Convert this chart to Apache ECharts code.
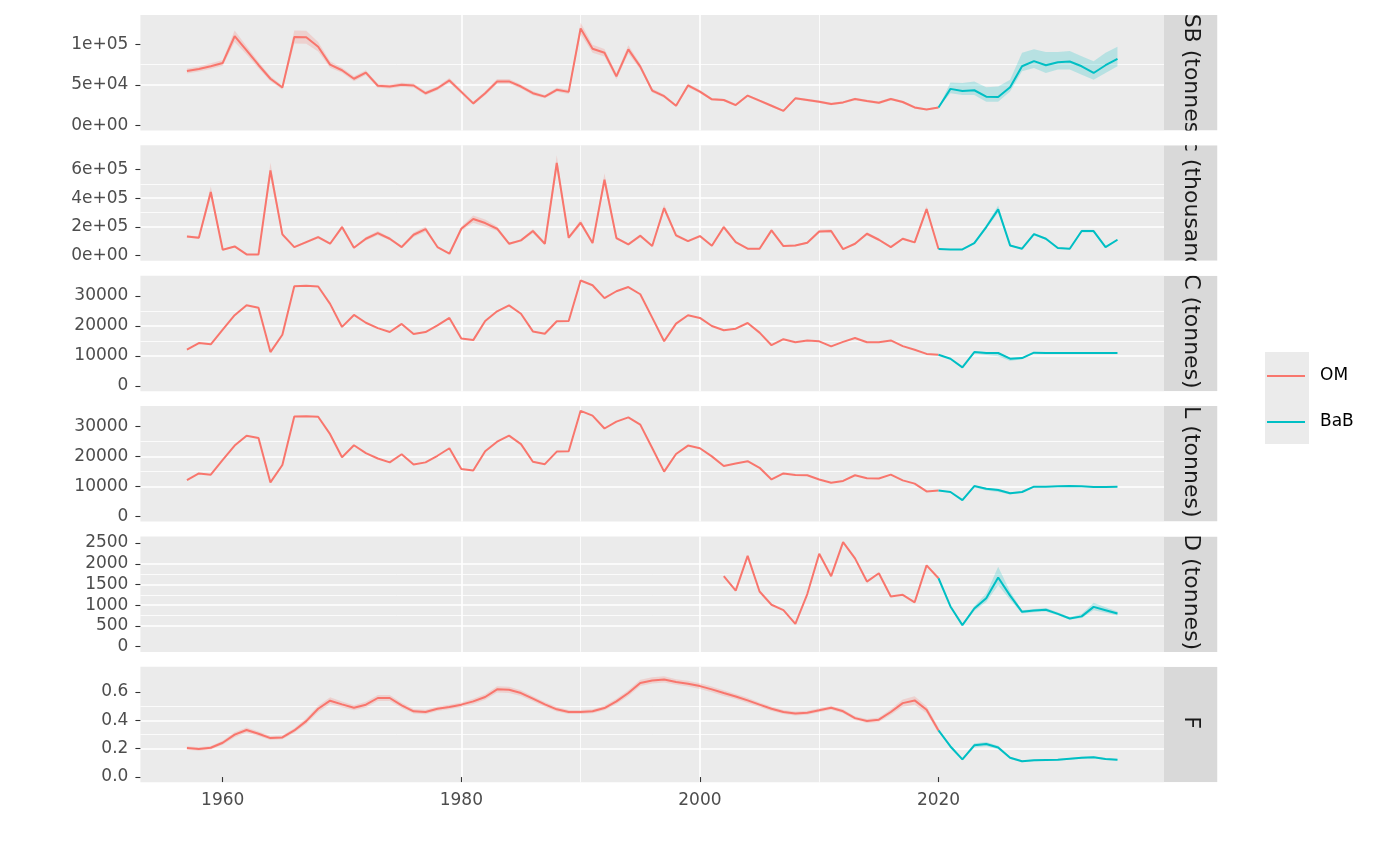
<!DOCTYPE html>
<html><head><meta charset="utf-8">
<script src="https://cdn.jsdelivr.net/npm/echarts@6/dist/echarts.min.js"></script>
<style>html,body{margin:0;padding:0;background:#fff}#c{width:1400px;height:866px}</style>
</head><body><div id="c"></div>
<script>
// ---------------- DATA ----------------
const omYears = [1957,1958,1959,1960,1961,1962,1963,1964,1965,1966,1967,1968,1969,1970,1971,1972,1973,1974,1975,1976,1977,1978,1979,1980,1981,1982,1983,1984,1985,1986,1987,1988,1989,1990,1991,1992,1993,1994,1995,1996,1997,1998,1999,2000,2001,2002,2003,2004,2005,2006,2007,2008,2009,2010,2011,2012,2013,2014,2015,2016,2017,2018,2019,2020];
const babYears = [2020,2021,2022,2023,2024,2025,2026,2027,2028,2029,2030,2031,2032,2033,2034,2035];
const dOmYears = [2002,2003,2004,2005,2006,2007,2008,2009,2010,2011,2012,2013,2014,2015,2016,2017,2018,2019,2020];

const stripLabels = ['SSB (tonnes)','Rec (thousands)','C (tonnes)','L (tonnes)','D (tonnes)','F'];
const legendNames = ['OM','BaB'];

// SSB
const ssbOm = [67000,69500,73000,77000,110000,92500,74500,57500,46700,109000,
 108800,97000,75000,68000,57500,65000,48800,47900,50000,49200,
 39600,45800,55400,41300,27100,39600,54200,54200,47900,39600,
 35400,43800,41300,119600,94600,89600,60400,93800,72500,42900,
 36000,24200,49200,41700,32100,31300,25000,36700,30400,24200,
 17900,33300,31300,29200,26300,28300,32500,30000,27900,32500,
 28800,22100,19600,22100];
const ssbOmSpread = [3000,3000,3500,3500,7000,5000,4000,3000,2500,8000,
 8000,6000,4000,3000,3000,3000,2500,2500,2500,2500,
 2500,2500,3000,2500,2000,2500,3000,3000,2500,2500,
 2000,2500,2500,7000,5000,4500,3500,5000,3500,2500,
 2000,1500,2500,2000,1500,1500,1500,1500,1500,1500,
 1000,1500,1500,1500,1500,1500,1500,1500,1500,1500,
 1500,1500,1000,1000];
const ssbBab = [22100,45000,42500,43300,35400,35000,47100,72900,79200,74200,77900,78800,72900,64600,74200,82100];
const ssbBabLo = [22100,39600,37500,37500,29200,29200,41700,66700,70800,64600,68800,68800,62500,56200,64600,72900];
const ssbBabHi = [22100,52900,52100,54200,47100,47900,56200,89600,93800,90400,90400,91700,85400,79200,89600,97100];

// Recruitment
const recOm = [133000,123700,443500,39700,63000,7000,7000,595000,147000,58400,
 93400,128400,81700,198400,53700,116700,156400,116700,58400,144700,
 184400,58400,11700,186700,254400,226400,186700,81700,105000,170400,
 81700,646500,123700,228700,86400,529800,121400,77000,138000,66000,
 331400,140000,100400,135400,67700,198400,93400,46700,46700,175000,
 65400,70000,88700,168000,170400,44300,81700,151700,109700,58400,
 116700,91000,324400,44300];
const recOmSpread = [8000,8000,40000,4000,5000,2000,2000,55000,12000,5000,
 8000,10000,7000,15000,5000,12000,15000,10000,5000,15000,
 18000,5000,2000,15000,25000,25000,15000,8000,8000,15000,
 8000,55000,10000,20000,8000,45000,10000,7000,12000,6000,
 25000,12000,8000,10000,6000,15000,8000,4000,4000,12000,
 5000,6000,7000,12000,12000,4000,6000,10000,8000,5000,
 8000,7000,20000,4000];
const recBab = [44300,42000,42000,86400,198400,322100,70000,46700,149400,116700,51300,46700,170400,170400,58400,109700];
const recBabLo = [44300,40000,40000,80000,185000,300000,64000,43000,140000,110000,48000,43000,160000,160000,54000,103000];
const recBabHi = [44300,44000,44000,93000,212000,350000,76000,50000,158000,124000,55000,50000,180000,180000,63000,116000];

// Catch
const cOm = [12100,14300,13900,18800,23600,26900,26100,11300,17100,33300,
 33400,33200,27400,19700,23700,21100,19300,18000,20700,17300,
 18000,20200,22700,15800,15300,21700,24900,26900,24100,18200,
 17400,21600,21700,35200,33600,29300,31600,33000,30600,22800,
 14900,20800,23600,22700,20000,18600,19100,21000,17800,13600,
 15600,14600,15200,14900,13200,14700,16000,14600,14600,15200,
 13300,12100,10700,10400];
const cBab = [10400,9100,6200,11300,11000,11000,9100,9300,11100,11000,11000,11000,11000,11000,11000,11000];
const cBabLo = [10400,9000,6100,10800,10300,9900,8300,8900,10900,10900,10900,10900,10900,10900,10900,10900];
const cBabHi = [10400,9200,6300,11500,11300,11200,9400,9500,11200,11100,11100,11100,11100,11100,11100,11100];

// Landings
const lOm = [12100,14300,13900,18800,23600,26900,26100,11300,17100,33300,
 33400,33200,27400,19700,23700,21100,19300,18000,20700,17300,
 18000,20200,22700,15800,15300,21700,24900,26900,24100,18200,
 17400,21600,21700,35200,33600,29300,31600,33000,30600,22800,
 14900,20800,23600,22700,20000,16800,17600,18400,16200,12300,
 14300,13800,13700,12300,11200,11800,13700,12700,12600,13900,
 12000,10900,8300,8600];
const lBab = [8600,8100,5400,10100,9200,8800,7700,8100,9900,9900,10000,10100,10000,9800,9800,9900];
const lBabLo = [8600,8000,5300,9700,8600,8100,7300,7900,9800,9800,9900,10000,9900,9700,9700,9800];
const lBabHi = [8600,8200,5500,10300,9500,9200,8000,8300,10000,10000,10100,10200,10100,9900,9900,10000];

// Discards
const dOm = [1700,1350,2190,1330,1010,880,550,1270,2240,1700,2520,2130,1570,1770,1210,1250,1070,1960,1650];
const dBab = [1650,970,520,920,1170,1670,1230,840,870,890,790,680,730,960,880,800];
const dBabLo = [1650,940,500,860,1080,1480,1130,800,830,850,760,650,690,880,820,750];
const dBabHi = [1650,1000,540,980,1280,1930,1330,880,910,930,830,710,790,1060,950,850];

// Fishing mortality
const fOm = [0.205,0.198,0.207,0.242,0.299,0.332,0.306,0.275,0.280,0.329,
 0.395,0.482,0.539,0.513,0.489,0.511,0.558,0.558,0.506,0.464,
 0.459,0.482,0.494,0.511,0.534,0.565,0.619,0.616,0.593,0.553,
 0.513,0.478,0.459,0.459,0.464,0.487,0.534,0.593,0.664,0.682,
 0.689,0.671,0.659,0.642,0.619,0.593,0.569,0.541,0.511,0.482,
 0.459,0.449,0.454,0.471,0.489,0.464,0.416,0.395,0.405,0.459,
 0.522,0.541,0.475,0.329];
const fOmSpread = [0.012,0.012,0.012,0.014,0.018,0.018,0.016,0.014,0.014,0.016,
 0.02,0.022,0.024,0.02,0.018,0.02,0.022,0.022,0.018,0.016,
 0.016,0.016,0.016,0.016,0.018,0.02,0.022,0.022,0.02,0.018,
 0.016,0.016,0.014,0.014,0.014,0.016,0.018,0.02,0.022,0.022,
 0.022,0.02,0.02,0.02,0.02,0.02,0.018,0.018,0.016,0.016,
 0.014,0.014,0.014,0.014,0.014,0.014,0.014,0.014,0.016,0.02,
 0.026,0.03,0.024,0.02];
const fBab = [0.329,0.216,0.125,0.224,0.233,0.209,0.136,0.111,0.118,0.120,0.122,0.129,0.136,0.139,0.127,0.122];
const fBabSpread = [0,0.012,0.008,0.015,0.015,0.012,0.008,0.006,0.006,0.006,0.006,0.006,0.007,0.007,0.006,0.006];

// Axis ticks
const xMajor = [1960,1980,2000,2020];
const xMinor = [1970,1990,2010,2030];
const yMajorTicks = [
  [0,50000,100000],
  [0,200000,400000,600000],
  [0,10000,20000,30000],
  [0,10000,20000,30000],
  [0,500,1000,1500,2000,2500],
  [0,0.2,0.4,0.6]
];
const yTickLabels = [
  ['0e+00','5e+04','1e+05'],
  ['0e+00','2e+05','4e+05','6e+05'],
  ['0','10000','20000','30000'],
  ['0','10000','20000','30000'],
  ['0','500','1000','1500','2000','2500'],
  ['0.0','0.2','0.4','0.6']
];
const yMinorTicks = [
  [25000,75000,125000],
  [100000,300000,500000,700000],
  [5000,15000,25000,35000],
  [5000,15000,25000,35000],
  [250,750,1250,1750,2250],
  [0.1,0.3,0.5,0.7]
];
const yMin = [-6400,-38000,-1750,-1750,-127,-0.0367];
const yMax = [136200,770000,36790,36790,2660,0.7786];
const xMin = 1953.1, xMax = 2038.9;

// ---------------- LAYOUT / STYLE ----------------
const FONT = 'DejaVu Sans';
const COL_OM = '#F8766D', COL_BAB = '#00BFC4';
const BAND_OM = 'rgba(248,118,109,0.22)', BAND_BAB = 'rgba(0,191,196,0.22)';
const GRID_LEFT = 140.4, GRID_W = 1023.6, TOP0 = 15, STEP = 130.35, PH = 115.5;
const STRIP_X = GRID_LEFT + GRID_W, STRIP_W = 53.5;

function spreadLo(v, s){ return v.map((x,k)=>x - s[k]); }
function spreadHi(v, s){ return v.map((x,k)=>x + s[k]); }

const panels = [
  {om:[omYears, ssbOm], bab:[babYears, ssbBab], bands:[[omYears, spreadLo(ssbOm,ssbOmSpread), spreadHi(ssbOm,ssbOmSpread), BAND_OM],[babYears, ssbBabLo, ssbBabHi, BAND_BAB]]},
  {om:[omYears, recOm], bab:[babYears, recBab], bands:[[omYears, spreadLo(recOm,recOmSpread), spreadHi(recOm,recOmSpread), BAND_OM],[babYears, recBabLo, recBabHi, BAND_BAB]]},
  {om:[omYears, cOm], bab:[babYears, cBab], bands:[[babYears, cBabLo, cBabHi, BAND_BAB]]},
  {om:[omYears, lOm], bab:[babYears, lBab], bands:[[babYears, lBabLo, lBabHi, BAND_BAB]]},
  {om:[dOmYears, dOm], bab:[babYears, dBab], bands:[[babYears, dBabLo, dBabHi, BAND_BAB]]},
  {om:[omYears, fOm], bab:[babYears, fBab], bands:[[omYears, spreadLo(fOm,fOmSpread), spreadHi(fOm,fOmSpread), BAND_OM],[babYears, spreadLo(fBab,fBabSpread), spreadHi(fBab,fBabSpread), BAND_BAB]]}
];

const grids=[], xAxes=[], yAxes=[], series=[];
panels.forEach((p,i)=>{
  const top = TOP0 + STEP*i;
  const isBottom = i === panels.length-1;
  grids.push({left:GRID_LEFT, top:top, width:GRID_W, height:PH, show:true, backgroundColor:'#EBEBEB', borderWidth:0, containLabel:false, outerBoundsMode:'none'});
  xAxes.push({type:'value', gridIndex:i, min:xMin, max:xMax, position:'bottom',
    axisLine:{show:false},
    axisTick:{show:isBottom, customValues:xMajor, length:5, lineStyle:{color:'#333333', width:1.1}},
    axisLabel:{show:isBottom, customValues:xMajor, color:'#4D4D4D', fontSize:17, fontFamily:FONT, margin:10, formatter:(v)=>String(v)},
    splitLine:{show:true, customValues:xMajor, showMinLine:false, showMaxLine:false, lineStyle:{color:'#FFFFFF', width:1.6}}
  });
  xAxes.push({type:'value', gridIndex:i, min:xMin, max:xMax, position:'top',
    axisLine:{show:false}, axisTick:{show:false, customValues:xMinor}, axisLabel:{show:false, customValues:xMinor},
    splitLine:{show:true, customValues:xMinor, showMinLine:false, showMaxLine:false, lineStyle:{color:'#FFFFFF', width:0.8}}
  });
  const majors = yMajorTicks[i], labs = yTickLabels[i];
  yAxes.push({type:'value', gridIndex:i, min:yMin[i], max:yMax[i], position:'left',
    axisLine:{show:false},
    axisTick:{show:true, customValues:majors, length:5, lineStyle:{color:'#333333', width:1.1}},
    axisLabel:{show:true, customValues:majors, color:'#4D4D4D', fontSize:17, fontFamily:FONT, margin:12, padding:[4,0,0,0],
      formatter:(v)=>{ let k=-1; majors.forEach((m,j)=>{ if (Math.abs(m-v) < 1e-9*Math.max(1,Math.abs(m))+1e-12) k=j; }); return k>=0 ? labs[k] : ''; }},
    splitLine:{show:true, customValues:majors, showMinLine:false, showMaxLine:false, lineStyle:{color:'#FFFFFF', width:1.6}}
  });
  yAxes.push({type:'value', gridIndex:i, min:yMin[i], max:yMax[i], position:'right',
    axisLine:{show:false}, axisTick:{show:false, customValues:yMinorTicks[i]}, axisLabel:{show:false, customValues:yMinorTicks[i]},
    splitLine:{show:true, customValues:yMinorTicks[i], showMinLine:false, showMaxLine:false, lineStyle:{color:'#FFFFFF', width:0.8}}
  });

  p.bands.forEach(b=>{
    const [yrs, lo, hi, fill] = b;
    series.push({type:'custom', xAxisIndex:2*i, yAxisIndex:2*i, silent:true, z:2, clip:true, animation:false,
      data: yrs.map((y,k)=>[y, lo[k], hi[k]]), encode:{x:0, y:[1,2]},
      renderItem:(params, api)=>{
        if (params.dataIndex !== 0) return null;
        const up=[], dn=[];
        for (let k=0;k<yrs.length;k++){ up.push(api.coord([yrs[k], hi[k]])); dn.push(api.coord([yrs[k], lo[k]])); }
        return {type:'polygon', shape:{points: up.concat(dn.reverse())}, style:{fill: fill}};
      }
    });
  });
  [['OM', p.om, COL_OM], ['BaB', p.bab, COL_BAB]].forEach(([name, d, col])=>{
    series.push({type:'line', name:name, xAxisIndex:2*i, yAxisIndex:2*i, silent:true, z:3, animation:false,
      data: d[0].map((y,k)=>[y, d[1][k]]), symbol:'none', showSymbol:false, color:col,
      itemStyle:{color:col}, lineStyle:{color:col, width:2}
    });
  });
});

// facet strips
series.push({type:'custom', coordinateSystem:'none', silent:true, z:5, animation:false,
  data: stripLabels.map((s,i)=>[i]),
  renderItem:(params, api)=>{
    const i = params.dataIndex; const top = TOP0 + STEP*i;
    return {type:'group', clipPath:{type:'rect', shape:{x:STRIP_X, y:top, width:STRIP_W, height:PH}}, children:[
      {type:'rect', shape:{x:STRIP_X, y:top, width:STRIP_W, height:PH}, style:{fill:'#D9D9D9'}},
      {type:'text', x:STRIP_X+STRIP_W/2, y:top+PH/2-2, rotation:-Math.PI/2,
        style:{text:stripLabels[i], fill:'#1A1A1A', fontSize:22, fontFamily:FONT, align:'center', verticalAlign:'middle'}}
    ]};
  }
});

const chart = echarts.init(document.getElementById('c'), null, {renderer:'canvas'});
chart.setOption({
  animation:false,
  backgroundColor:'#FFFFFF',
  grid: grids, xAxis: xAxes, yAxis: yAxes, series: series,
  legend:{data:legendNames, orient:'vertical', left:1262, top:361, icon:'rect', itemWidth:38, itemHeight:2, itemGap:26,
    selectedMode:false, textStyle:{fontSize:17, fontFamily:FONT, color:'#000000', lineHeight:20, padding:[0,0,0,10]}},
  graphic:[
    {type:'rect', z:-1, left:1265, top:352, shape:{width:44, height:46}, style:{fill:'#EBEBEB'}},
    {type:'rect', z:-1, left:1265, top:398, shape:{width:44, height:46}, style:{fill:'#EBEBEB'}}
  ]
});
</script></body></html>
